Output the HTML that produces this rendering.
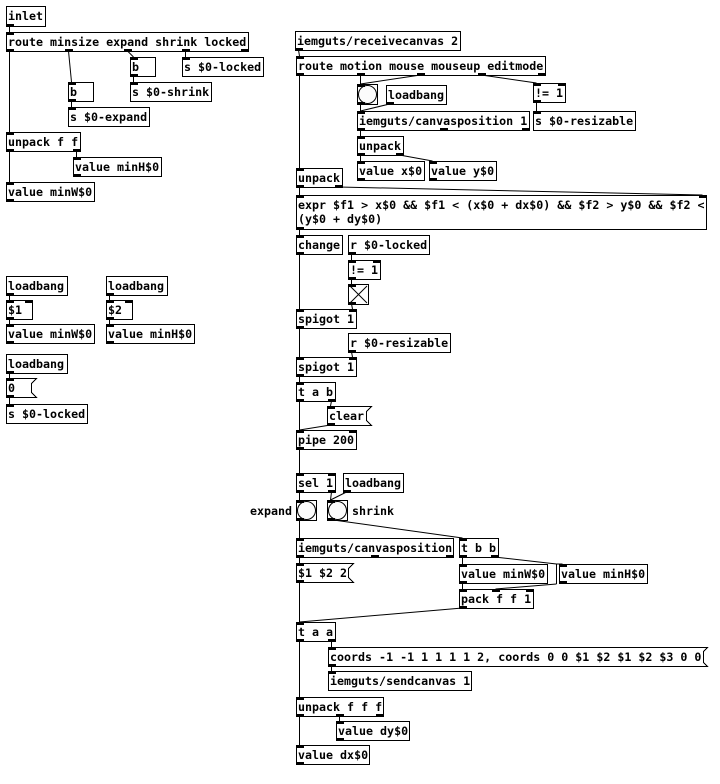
<!DOCTYPE html>
<html><head><meta charset="utf-8"><style>
html,body{margin:0;padding:0;background:#fff;}
svg{display:block;}
.b{fill:#fff;stroke:#000;stroke-width:1;shape-rendering:crispEdges;}
.io{fill:#000;shape-rendering:crispEdges;}
.c{stroke:#000;stroke-width:1;fill:none;}
text{font-family:"DejaVu Sans Mono","Liberation Mono",monospace;font-weight:bold;font-size:11.65px;fill:#000;white-space:pre;}
</style></head><body>
<svg width="720" height="784" viewBox="0 0 720 784" xmlns="http://www.w3.org/2000/svg">
<rect width="720" height="784" fill="#fff"/>
<!-- connections -->
<g class="c">
<line x1="9.5" y1="26" x2="9.5" y2="32"/>
<line x1="9.5" y1="51" x2="9.5" y2="132"/>
<line x1="68.5" y1="51" x2="71.5" y2="82"/>
<line x1="127.5" y1="51" x2="133.5" y2="57"/>
<line x1="185.5" y1="51" x2="185.5" y2="57"/>
<line x1="133.5" y1="76" x2="133.5" y2="82"/>
<line x1="71.5" y1="101" x2="71.5" y2="107"/>
<line x1="9.5" y1="151" x2="9.5" y2="182"/>
<line x1="76.5" y1="151" x2="76.5" y2="157"/>
<line x1="9.5" y1="295" x2="9.5" y2="300"/>
<line x1="9.5" y1="319" x2="9.5" y2="324"/>
<line x1="109.5" y1="295" x2="109.5" y2="300"/>
<line x1="109.5" y1="319" x2="109.5" y2="324"/>
<line x1="9.5" y1="373" x2="9.5" y2="378"/>
<line x1="9.5" y1="397" x2="9.5" y2="404"/>

<line x1="298.5" y1="50" x2="299.5" y2="56"/>
<line x1="299.5" y1="75" x2="299.5" y2="168"/>
<line x1="360.5" y1="75" x2="360.5" y2="84"/>
<line x1="420.5" y1="75" x2="360.5" y2="84"/>
<line x1="481.5" y1="75" x2="536.5" y2="83"/>
<line x1="360.5" y1="104" x2="360.5" y2="111"/>
<line x1="389.5" y1="104" x2="360.5" y2="111"/>
<line x1="536.5" y1="102" x2="536.5" y2="111"/>
<line x1="360.5" y1="130" x2="360.5" y2="136"/>
<line x1="360.5" y1="155" x2="360.5" y2="161"/>
<line x1="399.5" y1="155" x2="432.5" y2="161"/>
<line x1="299.5" y1="187" x2="299.5" y2="195"/>
<line x1="338.5" y1="187" x2="702.5" y2="195"/>
<line x1="299.5" y1="229" x2="299.5" y2="235"/>
<line x1="299.5" y1="254" x2="299.5" y2="309"/>
<line x1="351.5" y1="254" x2="351.5" y2="260"/>
<line x1="351.5" y1="279" x2="351.5" y2="284"/>
<line x1="351.5" y1="304" x2="352.5" y2="309"/>
<line x1="299.5" y1="328" x2="299.5" y2="357"/>
<line x1="351.5" y1="352" x2="352.5" y2="357"/>
<line x1="299.5" y1="376" x2="299.5" y2="382"/>
<line x1="299.5" y1="401" x2="299.5" y2="430"/>
<line x1="331.5" y1="401" x2="330.5" y2="406"/>
<line x1="330.5" y1="425" x2="299.5" y2="430"/>
<line x1="299.5" y1="449" x2="299.5" y2="473"/>
<line x1="299.5" y1="492" x2="299.5" y2="500"/>
<line x1="331.5" y1="492" x2="330.5" y2="500"/>
<line x1="346.5" y1="492" x2="330.5" y2="500"/>
<line x1="299.5" y1="520" x2="299.5" y2="538"/>
<line x1="333.5" y1="520" x2="462.5" y2="538"/>
<line x1="299.5" y1="557" x2="299.5" y2="563"/>
<line x1="299.5" y1="582" x2="299.5" y2="622"/>
<line x1="462.5" y1="557" x2="462.5" y2="564"/>
<line x1="494.5" y1="557" x2="556.5" y2="564"/>
<line x1="556.5" y1="564" x2="562.5" y2="564"/>
<line x1="556.5" y1="564" x2="556.5" y2="584"/>
<line x1="556.5" y1="584" x2="495.5" y2="589"/>
<line x1="462.5" y1="583" x2="462.5" y2="589"/>
<line x1="462.5" y1="608" x2="299.5" y2="622"/>
<line x1="299.5" y1="641" x2="299.5" y2="697"/>
<line x1="331.5" y1="641" x2="331.5" y2="647"/>
<line x1="331.5" y1="666" x2="331.5" y2="671"/>
<line x1="299.5" y1="716" x2="299.5" y2="745"/>
<line x1="339.5" y1="716" x2="339.5" y2="721"/>
</g>

<!-- LEFT: boxes -->
<rect class="b" x="6.5" y="6.5" width="39" height="20"/><text x="8" y="20">inlet</text>
<rect class="io" x="6" y="24" width="8" height="3"/>

<rect class="b" x="6.5" y="32.5" width="242" height="19"/><text x="8" y="46">route minsize expand shrink locked</text>
<rect class="io" x="6" y="32" width="8" height="3"/>
<rect class="io" x="6" y="49" width="8" height="3"/><rect class="io" x="65" y="49" width="8" height="3"/><rect class="io" x="124" y="49" width="8" height="3"/><rect class="io" x="182" y="49" width="8" height="3"/><rect class="io" x="241" y="49" width="8" height="3"/>

<rect class="b" x="130.5" y="57.5" width="25" height="19"/><text x="132" y="71">b</text>
<rect class="io" x="130" y="57" width="8" height="3"/><rect class="io" x="130" y="74" width="8" height="3"/>

<rect class="b" x="182.5" y="57.5" width="81" height="19"/><text x="184" y="71">s $0-locked</text>
<rect class="io" x="182" y="57" width="8" height="3"/>

<rect class="b" x="68.5" y="82.5" width="25" height="19"/><text x="70" y="96">b</text>
<rect class="io" x="68" y="82" width="8" height="3"/><rect class="io" x="68" y="99" width="8" height="3"/>

<rect class="b" x="130.5" y="82.5" width="81" height="19"/><text x="132" y="96">s $0-shrink</text>
<rect class="io" x="130" y="82" width="8" height="3"/>

<rect class="b" x="68.5" y="107.5" width="81" height="19"/><text x="70" y="121">s $0-expand</text>
<rect class="io" x="68" y="107" width="8" height="3"/>

<rect class="b" x="6.5" y="132.5" width="74" height="19"/><text x="8" y="146">unpack f f</text>
<rect class="io" x="6" y="132" width="8" height="3"/><rect class="io" x="6" y="149" width="8" height="3"/><rect class="io" x="73" y="149" width="8" height="3"/>

<rect class="b" x="73.5" y="157.5" width="88" height="19"/><text x="75" y="171">value minH$0</text>
<rect class="io" x="73" y="157" width="8" height="3"/><rect class="io" x="73" y="174" width="8" height="3"/>

<rect class="b" x="6.5" y="182.5" width="88" height="19"/><text x="8" y="196">value minW$0</text>
<rect class="io" x="6" y="182" width="8" height="3"/><rect class="io" x="6" y="199" width="8" height="3"/>

<!-- loadbang groups -->
<rect class="b" x="6.5" y="276.5" width="61" height="19"/><text x="8" y="290">loadbang</text>
<rect class="io" x="6" y="293" width="8" height="3"/>
<rect class="b" x="6.5" y="300.5" width="26" height="19"/><text x="8" y="314">$1</text>
<rect class="io" x="6" y="300" width="8" height="3"/><rect class="io" x="25" y="300" width="8" height="3"/><rect class="io" x="6" y="317" width="8" height="3"/>
<rect class="b" x="6.5" y="324.5" width="88" height="19"/><text x="8" y="338">value minW$0</text>
<rect class="io" x="6" y="324" width="8" height="3"/><rect class="io" x="6" y="341" width="8" height="3"/>

<rect class="b" x="106.5" y="276.5" width="61" height="19"/><text x="108" y="290">loadbang</text>
<rect class="io" x="106" y="293" width="8" height="3"/>
<rect class="b" x="106.5" y="300.5" width="26" height="19"/><text x="108" y="314">$2</text>
<rect class="io" x="106" y="300" width="8" height="3"/><rect class="io" x="125" y="300" width="8" height="3"/><rect class="io" x="106" y="317" width="8" height="3"/>
<rect class="b" x="106.5" y="324.5" width="88" height="19"/><text x="108" y="338">value minH$0</text>
<rect class="io" x="106" y="324" width="8" height="3"/><rect class="io" x="106" y="341" width="8" height="3"/>

<rect class="b" x="6.5" y="354.5" width="61" height="19"/><text x="8" y="368">loadbang</text>
<rect class="io" x="6" y="371" width="8" height="3"/>
<polygon class="b" points="6.5,378.5 36.5,378.5 31.5,383.5 31.5,392.5 36.5,397.5 6.5,397.5"/><text x="8" y="392">0</text>
<rect class="io" x="6" y="378" width="8" height="3"/><rect class="io" x="6" y="395" width="8" height="3"/>
<rect class="b" x="6.5" y="404.5" width="81" height="19"/><text x="8" y="418">s $0-locked</text>
<rect class="io" x="6" y="404" width="8" height="3"/>

<!-- RIGHT -->
<rect class="b" x="295.5" y="31.5" width="165" height="19"/><text x="297" y="45">iemguts/receivecanvas 2</text>
<rect class="io" x="295" y="48" width="8" height="3"/>

<rect class="b" x="296.5" y="56.5" width="249" height="19"/><text x="298" y="70">route motion mouse mouseup editmode</text>
<rect class="io" x="296" y="56" width="8" height="3"/>
<rect class="io" x="296" y="73" width="8" height="3"/><rect class="io" x="357" y="73" width="8" height="3"/><rect class="io" x="417" y="73" width="8" height="3"/><rect class="io" x="478" y="73" width="8" height="3"/><rect class="io" x="538" y="73" width="8" height="3"/>

<rect class="b" x="357.5" y="84.5" width="20" height="20"/><circle cx="367.5" cy="94.5" r="9" fill="#fcfcfc" stroke="#000" stroke-width="1"/>
<rect class="io" x="357" y="84" width="8" height="3"/><rect class="io" x="357" y="102" width="8" height="3"/>

<rect class="b" x="386.5" y="85.5" width="60" height="19"/><text x="388" y="99">loadbang</text>
<rect class="io" x="386" y="102" width="8" height="3"/>

<rect class="b" x="533.5" y="83.5" width="32" height="19"/><text x="535" y="97">!= 1</text>
<rect class="io" x="533" y="83" width="8" height="3"/><rect class="io" x="558" y="83" width="8" height="3"/><rect class="io" x="533" y="100" width="8" height="3"/>

<rect class="b" x="357.5" y="111.5" width="172" height="19"/><text x="359" y="125">iemguts/canvasposition 1</text>
<rect class="io" x="357" y="111" width="8" height="3"/><rect class="io" x="357" y="128" width="8" height="3"/><rect class="io" x="440" y="128" width="8" height="3"/><rect class="io" x="522" y="128" width="8" height="3"/>

<rect class="b" x="533.5" y="111.5" width="102" height="19"/><text x="535" y="125">s $0-resizable</text>
<rect class="io" x="533" y="111" width="8" height="3"/>

<rect class="b" x="357.5" y="136.5" width="46" height="19"/><text x="359" y="150">unpack</text>
<rect class="io" x="357" y="136" width="8" height="3"/><rect class="io" x="357" y="153" width="8" height="3"/><rect class="io" x="396" y="153" width="8" height="3"/>

<rect class="b" x="357.5" y="161.5" width="67" height="19"/><text x="359" y="175">value x$0</text>
<rect class="io" x="357" y="161" width="8" height="3"/><rect class="io" x="357" y="178" width="8" height="3"/>
<rect class="b" x="429.5" y="161.5" width="67" height="19"/><text x="431" y="175">value y$0</text>
<rect class="io" x="429" y="161" width="8" height="3"/><rect class="io" x="429" y="178" width="8" height="3"/>

<rect class="b" x="296.5" y="168.5" width="46" height="19"/><text x="298" y="182">unpack</text>
<rect class="io" x="296" y="168" width="8" height="3"/><rect class="io" x="296" y="185" width="8" height="3"/><rect class="io" x="335" y="185" width="8" height="3"/>

<rect class="b" x="296.5" y="195.5" width="410" height="34"/>
<text x="298" y="209">expr $f1 &gt; x$0 &amp;&amp; $f1 &lt; (x$0 + dx$0) &amp;&amp; $f2 &gt; y$0 &amp;&amp; $f2 &lt;</text>
<text x="298" y="223">(y$0 + dy$0)</text>
<rect class="io" x="296" y="195" width="8" height="3"/><rect class="io" x="699" y="195" width="8" height="3"/><rect class="io" x="296" y="227" width="8" height="3"/>

<rect class="b" x="296.5" y="235.5" width="46" height="19"/><text x="298" y="249">change</text>
<rect class="io" x="296" y="235" width="8" height="3"/><rect class="io" x="296" y="252" width="8" height="3"/>

<rect class="b" x="348.5" y="235.5" width="81" height="19"/><text x="350" y="249">r $0-locked</text>
<rect class="io" x="348" y="252" width="8" height="3"/>

<rect class="b" x="348.5" y="260.5" width="32" height="19"/><text x="350" y="274">!= 1</text>
<rect class="io" x="348" y="260" width="8" height="3"/><rect class="io" x="373" y="260" width="8" height="3"/><rect class="io" x="348" y="277" width="8" height="3"/>

<rect class="b" x="348.5" y="284.5" width="20" height="20"/>
<line class="c" x1="350" y1="286" x2="367" y2="303"/><line class="c" x1="367" y1="286" x2="350" y2="303"/>
<rect class="io" x="348" y="284" width="8" height="3"/><rect class="io" x="348" y="302" width="8" height="3"/>

<rect class="b" x="296.5" y="309.5" width="60" height="19"/><text x="298" y="323">spigot 1</text>
<rect class="io" x="296" y="309" width="8" height="3"/><rect class="io" x="349" y="309" width="8" height="3"/><rect class="io" x="296" y="326" width="8" height="3"/>

<rect class="b" x="348.5" y="333.5" width="102" height="19"/><text x="350" y="347">r $0-resizable</text>
<rect class="io" x="348" y="350" width="8" height="3"/>

<rect class="b" x="296.5" y="357.5" width="60" height="19"/><text x="298" y="371">spigot 1</text>
<rect class="io" x="296" y="357" width="8" height="3"/><rect class="io" x="349" y="357" width="8" height="3"/><rect class="io" x="296" y="374" width="8" height="3"/>

<rect class="b" x="296.5" y="382.5" width="39" height="19"/><text x="298" y="396">t a b</text>
<rect class="io" x="296" y="382" width="8" height="3"/><rect class="io" x="296" y="399" width="8" height="3"/><rect class="io" x="328" y="399" width="8" height="3"/>

<polygon class="b" points="327.5,406.5 371.5,406.5 366.5,411.5 366.5,420.5 371.5,425.5 327.5,425.5"/><text x="329" y="420">clear</text>
<rect class="io" x="327" y="406" width="8" height="3"/><rect class="io" x="327" y="423" width="8" height="3"/>

<rect class="b" x="296.5" y="430.5" width="60" height="19"/><text x="298" y="444">pipe 200</text>
<rect class="io" x="296" y="430" width="8" height="3"/><rect class="io" x="349" y="430" width="8" height="3"/><rect class="io" x="296" y="447" width="8" height="3"/>

<rect class="b" x="296.5" y="473.5" width="39" height="19"/><text x="298" y="487">sel 1</text>
<rect class="io" x="296" y="473" width="8" height="3"/><rect class="io" x="328" y="473" width="8" height="3"/><rect class="io" x="296" y="490" width="8" height="3"/><rect class="io" x="328" y="490" width="8" height="3"/>

<rect class="b" x="343.5" y="473.5" width="60" height="19"/><text x="345" y="487">loadbang</text>
<rect class="io" x="343" y="490" width="8" height="3"/>

<rect class="b" x="296.5" y="500.5" width="20" height="20"/><circle cx="306.5" cy="510.5" r="9" fill="#fcfcfc" stroke="#000" stroke-width="1"/>
<rect class="io" x="296" y="500" width="8" height="3"/><rect class="io" x="296" y="518" width="8" height="3"/>
<text x="250" y="515">expand</text>

<rect class="b" x="327.5" y="500.5" width="20" height="20"/><circle cx="337.5" cy="510.5" r="9" fill="#fcfcfc" stroke="#000" stroke-width="1"/>
<rect class="io" x="327" y="500" width="8" height="3"/><rect class="io" x="327" y="518" width="8" height="3"/>
<text x="352" y="515">shrink</text>

<rect class="b" x="296.5" y="538.5" width="157" height="19"/><text x="298" y="552">iemguts/canvasposition</text>
<rect class="io" x="296" y="538" width="8" height="3"/><rect class="io" x="296" y="555" width="8" height="3"/><rect class="io" x="371" y="555" width="8" height="3"/><rect class="io" x="446" y="555" width="8" height="3"/>

<rect class="b" x="459.5" y="538.5" width="39" height="19"/><text x="461" y="552">t b b</text>
<rect class="io" x="459" y="538" width="8" height="3"/><rect class="io" x="459" y="555" width="8" height="3"/><rect class="io" x="491" y="555" width="8" height="3"/>

<polygon class="b" points="296.5,563.5 353.5,563.5 348.5,568.5 348.5,577.5 353.5,582.5 296.5,582.5"/><text x="298" y="577">$1 $2 2</text>
<rect class="io" x="296" y="563" width="8" height="3"/><rect class="io" x="296" y="580" width="8" height="3"/>

<rect class="b" x="459.5" y="564.5" width="88" height="19"/><text x="461" y="578">value minW$0</text>
<rect class="io" x="459" y="564" width="8" height="3"/><rect class="io" x="459" y="581" width="8" height="3"/>
<rect class="b" x="559.5" y="564.5" width="88" height="19"/><text x="561" y="578">value minH$0</text>
<rect class="io" x="559" y="564" width="8" height="3"/><rect class="io" x="559" y="581" width="8" height="3"/>

<rect class="b" x="459.5" y="589.5" width="74" height="19"/><text x="461" y="603">pack f f 1</text>
<rect class="io" x="459" y="589" width="8" height="3"/><rect class="io" x="492" y="589" width="8" height="3"/><rect class="io" x="526" y="589" width="8" height="3"/><rect class="io" x="459" y="606" width="8" height="3"/>

<rect class="b" x="296.5" y="622.5" width="39" height="19"/><text x="298" y="636">t a a</text>
<rect class="io" x="296" y="622" width="8" height="3"/><rect class="io" x="296" y="639" width="8" height="3"/><rect class="io" x="328" y="639" width="8" height="3"/>

<polygon class="b" points="328.5,647.5 707.5,647.5 703.5,651.5 703.5,662.5 707.5,666.5 328.5,666.5"/><text x="330" y="661">coords -1 -1 1 1 1 1 2, coords 0 0 $1 $2 $1 $2 $3 0 0</text>
<rect class="io" x="328" y="647" width="8" height="3"/><rect class="io" x="328" y="664" width="8" height="3"/>

<rect class="b" x="328.5" y="671.5" width="143" height="19"/><text x="330" y="685">iemguts/sendcanvas 1</text>
<rect class="io" x="328" y="671" width="8" height="3"/>

<rect class="b" x="296.5" y="697.5" width="87" height="19"/><text x="298" y="711">unpack f f f</text>
<rect class="io" x="296" y="697" width="8" height="3"/><rect class="io" x="296" y="714" width="8" height="3"/><rect class="io" x="336" y="714" width="8" height="3"/><rect class="io" x="376" y="714" width="8" height="3"/>

<rect class="b" x="336.5" y="721.5" width="73" height="19"/><text x="338" y="735">value dy$0</text>
<rect class="io" x="336" y="721" width="8" height="3"/><rect class="io" x="336" y="738" width="8" height="3"/>

<rect class="b" x="296.5" y="745.5" width="73" height="19"/><text x="298" y="759">value dx$0</text>
<rect class="io" x="296" y="745" width="8" height="3"/><rect class="io" x="296" y="762" width="8" height="3"/>
</svg>
</body></html>
